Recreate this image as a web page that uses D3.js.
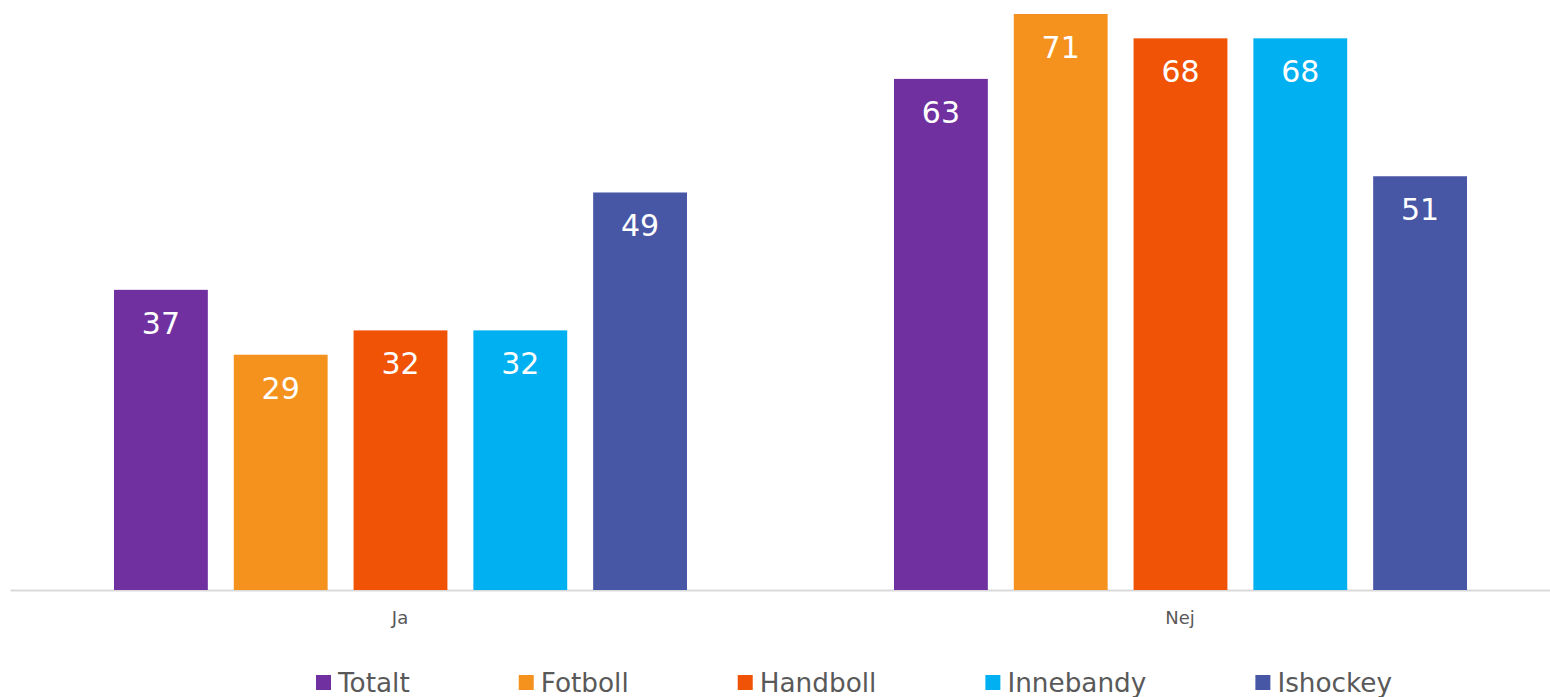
<!DOCTYPE html>
<html>
<head>
<meta charset="utf-8">
<script src="https://cdn.jsdelivr.net/npm/d3@7/dist/d3.min.js"></script>
<style>
  html, body { margin: 0; padding: 0; background: #fff; }
  svg { display: block; }
  text { font-family: "DejaVu Sans", Verdana, sans-serif; }
</style>
</head>
<body>
<svg id="chart" width="1550" height="697"></svg>
<script>
const categories = ["Ja", "Nej"];
const seriesNames = ["Totalt", "Fotboll", "Handboll", "Innebandy", "Ishockey"];
const totalt = [37, 63];
const fotboll = [29, 71];
const handboll = [32, 68];
const innebandy = [32, 68];
const ishockey = [49, 51];
const colors = ["#7030A0", "#F5921E", "#F05206", "#00B0F0", "#4856A6"];

const seriesValues = [totalt, fotboll, handboll, innebandy, ishockey];

const svg = d3.select("#chart");

const x0 = d3.scaleBand().domain(categories).range([10, 1570]).padding(0);
const x1 = d3.scaleBand().domain(seriesNames).range([104, 677]).paddingInner(26 / 120).paddingOuter(0);
const y = d3.scaleLinear().domain([0, 71]).range([590, 14]);

const rows = [];
categories.forEach((c, ci) => {
  seriesNames.forEach((s, si) => {
    rows.push({ cat: c, series: s, value: seriesValues[si][ci], color: colors[si] });
  });
});

// axis line
const xAxis = d3.axisBottom(x0).tickSize(0).tickPadding(0);
const gx = svg.append("g").attr("transform", `translate(0,${y(0)})`).call(xAxis);
gx.select(".domain").attr("stroke", "#d9d9d9").attr("stroke-width", 2);
gx.selectAll(".tick text")
  .attr("dy", null)
  .attr("y", 34)
  .attr("font-size", 18)
  .attr("fill", "#595959")
  .attr("font-family", "'DejaVu Sans', Verdana, sans-serif");

const g = svg.append("g");
g.selectAll("rect.bar").data(rows).enter().append("rect")
  .attr("class", "bar")
  .attr("x", d => x0(d.cat) + x1(d.series))
  .attr("y", d => y(d.value))
  .attr("width", x1.bandwidth())
  .attr("height", d => y(0) - y(d.value))
  .attr("fill", d => d.color);

g.selectAll("text.val").data(rows).enter().append("text")
  .attr("class", "val")
  .attr("x", d => x0(d.cat) + x1(d.series) + x1.bandwidth() / 2)
  .attr("y", d => y(d.value) + 44)
  .attr("text-anchor", "middle")
  .attr("font-size", 30)
  .attr("fill", "#ffffff")
  .text(d => d.value);

// legend
const legend = svg.append("g").attr("class", "legend");
let lx = 316;
seriesNames.forEach((s, i) => {
  const item = legend.append("g").attr("transform", `translate(${lx},0)`);
  item.append("rect").attr("x", 0).attr("y", 675).attr("width", 15).attr("height", 15).attr("fill", colors[i]);
  const t = item.append("text").attr("x", 22).attr("y", 692)
    .attr("font-size", 26.3).attr("fill", "#595959").text(s);
  const w = t.node().getComputedTextLength();
  lx += 22 + w + 109;
});
</script>
</body>
</html>
